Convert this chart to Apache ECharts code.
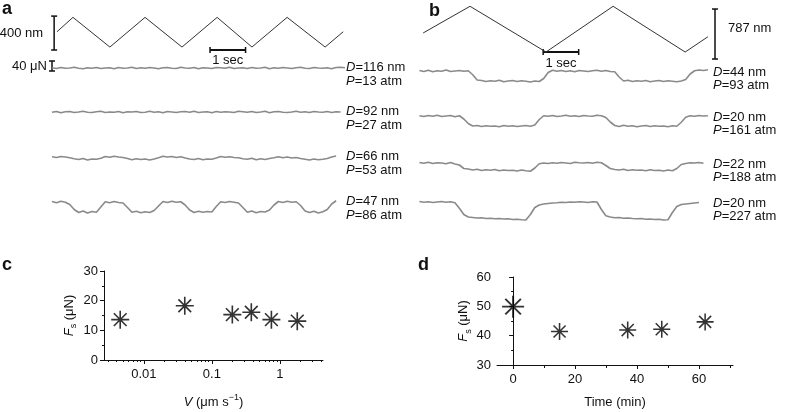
<!DOCTYPE html>
<html>
<head>
<meta charset="utf-8">
<script src="https://cdn.jsdelivr.net/npm/echarts@6/dist/echarts.min.js"></script>
<style>
  html, body { margin: 0; background: #fff; }
  #chart { width: 788px; height: 412px; }
</style>
</head>
<body>
<div id="chart"></div>
<script>
// sample spacing of the friction traces (s)
const DT = 0.125

// piezo drive (triangle), vertices as [time s, displacement nm]
const driveA = [[0.14, 180], [0.59, 350], [1.63, 0], [2.62, 350], [3.66, 0], [4.65, 350], [5.63, 0], [6.62, 350], [7.69, 0], [8.20, 180]]
const driveB = [[0.23, 300], [1.55, 720], [3.69, 0], [5.58, 720], [7.61, 0], [8.25, 240]]

// friction traces, µN, one value every DT
const traceA1 = [1,-2,2,-1,0,3,-1,-3,1,-1, 2,-2,0,1,-3,2,-1,0,3,-2, 1,-1,2,0,-3,1,2,-1,-2,3, 0,-1,2,-3,1,0,-2,2,1,-1, 3,-2,0,1,-2,2,-1,0,3,-3, 1,-1,2,0,-2,1,3,-1,-2,2, 0,-1,1,-3,2,3,1]
const traceA2 = [-1,2,-3,1,2,-2,0,3,-1,-2, 1,3,-2,0,-1,2,-3,1,0,2, -2,-1,3,-1,1,-3,2,0,-2,1, 2,-1,3,-2,0,1,-3,2,-1,1, 0,-2,3,1,-1,2,-2,0,3,-3, 1,2,-1,-2,0,3,-1,1,-2,2, 0,-1,2,-2,1,0]
const traceA3 = [1,-2,2,0,-3,-7,-10,-6,-12,-8,-9,-5,2,-1,3,0,-2,-6,-11,-7,-10,-8,-12,-8,-3,3,0,2,-2,1,-4,-8,-10,-6,-11,-8,-9,-4,2,-1,1,-2,-3,-7,-9,-5,-11,-7,-10,-6,-3,1,-3,0,-4,-2,-6,-9,-12,-8,-11,-9,-6,0,4]
const traceA4 = [2,-3,3,-1,-10,-30,-42,-36,-44,-38,-41,-20,1,-3,2,-2,-4,-22,-41,-37,-43,-39,-42,-34,-16,2,-2,3,-1,1,-12,-32,-42,-37,-41,-38,-40,-18,1,-2,2,-1,-4,-22,-41,-36,-43,-38,-40,-32,-12,2,-2,3,-1,1,-14,-36,-42,-37,-44,-39,-30,-8,5]
const traceB1 = [2,-2,3,-3,1,-1,4,-2,0,2,-1,1,-15,-36,-38,-42,-39,-41,-37,-43,-40,-38,-42,-39,-41,-44,-40,-42,-30,-6,3,-1,2,-2,1,-3,2,0,-2,1,3,-1,2,-2,-3,-24,-40,-37,-42,-39,-41,-38,-43,-40,-38,-42,-39,-41,-43,-40,-34,-12,1,4,2,5]
const traceB2 = [1,-2,2,-1,3,-2,0,2,-3,1,-12,-30,-40,-38,-42,-39,-41,-40,-43,-38,-41,-39,-42,-40,-38,-41,-36,-14,1,-1,2,-2,0,3,-1,1,-2,2,0,-1,3,1,-6,-24,-38,-42,-37,-41,-39,-43,-40,-38,-42,-39,-41,-40,-43,-39,-41,-25,-5,1,-1,2,0,1]
const traceB3 = [2,-1,3,-2,1,0,-3,2,-4,-8,-22,-24,-28,-25,-30,-27,-29,-26,-31,-28,-30,-29,-32,-28,-31,-33,-20,-3,0,-2,1,-1,2,0,-2,3,1,0,2,-1,3,1,-10,-22,-26,-28,-25,-30,-27,-29,-28,-31,-27,-30,-29,-32,-28,-31,-22,-6,-2,1,0,2,-1]
const traceB4 = [2,-1,1,-2,0,2,-1,1,-3,-25,-50,-60,-62,-64,-63,-66,-65,-67,-66,-68,-67,-70,-69,-71,-72,-50,-22,-12,-8,-6,-4,-3,-1,-2,0,-1,1,0,-2,1,0,-30,-55,-60,-63,-62,-65,-64,-66,-67,-66,-69,-68,-70,-69,-72,-71,-42,-18,-10,-8,-6,-4,-2]

const depthA = [116, 92, 66, 47]      // D, nm
const pressA = [13, 27, 53, 86]       // P, atm
const depthB = [44, 20, 22, 20]
const pressB = [93, 161, 188, 227]

// panel c: sliding speed (µm/s) vs static friction (µN)
const speedC = [0.0045, 0.04, 0.2, 0.38, 0.75, 1.8]
const forceC = [13.6, 18.3, 15.3, 16.1, 13.6, 13.1]
const ticksC = [0.01, 0.1, 1]

// panel d: time (min) vs static friction (µN)
const timeD = [0, 15, 37, 48, 62]
const forceD = [49.9, 41.4, 41.9, 42.2, 44.7]
const ticksD = [0, 20, 40, 60]
const minorD = [10, 30, 50, 70]

const FONT = '"Liberation Sans", Arial, Helvetica, sans-serif'
const INK = '#111'
const TRACE = '#8a8a8a'

// 8-spoke asterisk drawn as filled thin bars
const STAR = 'path://M0 45.5H100V54.5H0Z M45.5 0H54.5V100H45.5Z M11.4 17.8L17.8 11.4L88.6 82.2L82.2 88.6Z M82.2 11.4L88.6 17.8L17.8 88.6L11.4 82.2Z M42 42H58V58H42Z'

const grid = [], xAxis = [], yAxis = [], series = []

const addHidden = (box, xr, yr) => {
  grid.push(box)
  const i = grid.length - 1
  xAxis.push({ type: 'value', gridIndex: i, min: xr[0], max: xr[1], show: false })
  yAxis.push({ type: 'value', gridIndex: i, min: yr[0], max: yr[1], show: false })
  return i
}
const line = (i, data, color, width) => ({
  type: 'line', xAxisIndex: i, yAxisIndex: i, data, symbol: 'none', silent: true, clip: false,
  lineStyle: { color, width }
})
const toXY = (vals, t0) => vals.map((v, k) => [t0 + k * DT, v])

// ---- panel a ----
const gDriveA = addHidden({ left: 52, width: 293, top: 10, height: 45 }, [0, 8.25], [-94, 437])
series.push(line(gDriveA, driveA, '#333', 1))
const tracesA = [traceA1, traceA2, traceA3, traceA4]
const topsA = [58, 102, 147, 192]
const gA = tracesA.map((tr, k) => {
  const g = addHidden({ left: 52, width: 293, top: topsA[k], height: 32 }, [0, 8.25], [-88, 40])
  series.push(line(g, toXY(tr, 0), TRACE, 1.6))
  return g
})

// ---- panel b ----
const gDriveB = addHidden({ left: 415, width: 300, top: 4, height: 58 }, [0, 8.45], [-157, 756])
series.push(line(gDriveB, driveB, '#333', 1))
const tracesB = [traceB1, traceB2, traceB3, traceB4]
const topsB = [61, 106, 153, 192]
const gB = tracesB.map((tr, k) => {
  const g = addHidden({ left: 415, width: 300, top: topsB[k], height: 32 }, [0, 8.45], [-88, 40])
  series.push(line(g, toXY(tr, DT), TRACE, 1.6))
  return g
})

// ---- panels c, d ----
const labelStyle = { color: INK, fontSize: 13, fontFamily: FONT }
const richName = {
  i: { fontStyle: 'italic', fontSize: 13, fontFamily: FONT, color: INK, lineHeight: 18 },
  s: { fontSize: 9, fontFamily: FONT, color: INK, lineHeight: 10, verticalAlign: 'bottom' },
  sup: { fontSize: 9, fontFamily: FONT, color: INK, lineHeight: 10, verticalAlign: 'top' }
}
const nameStyle = { color: INK, fontSize: 13, fontFamily: FONT, lineHeight: 18, rich: richName }
const axisBase = {
  axisLine: { lineStyle: { color: INK, width: 1 } },
  axisTick: { lineStyle: { color: INK }, length: 4 },
  splitLine: { show: false },
  nameLocation: 'middle',
  nameTextStyle: nameStyle
}

grid.push({ left: 104, top: 271, width: 219, height: 93 })
const gC = grid.length - 1
xAxis.push(Object.assign({}, axisBase, {
  type: 'log', gridIndex: gC, position: 'bottom', min: 0.0026, max: 4.3,
  axisTick: { lineStyle: { color: INK }, length: 4, customValues: ticksC },
  axisLabel: Object.assign({ margin: 8, customValues: ticksC, formatter: v => String(v) }, labelStyle),
  name: '{i|V} (μm s{sup|−1})', nameGap: 33
}))
yAxis.push(Object.assign({}, axisBase, {
  type: 'value', gridIndex: gC, min: 0, max: 30, interval: 10,
  minorTick: { show: true, splitNumber: 2, length: 2, lineStyle: { color: INK } },
  axisLabel: Object.assign({ margin: 6 }, labelStyle),
  name: '{i|F}{s|s} (μN)', nameRotate: 90, nameGap: 26
}))
series.push({
  type: 'scatter', xAxisIndex: gC, yAxisIndex: gC, symbol: STAR, symbolSize: 18, silent: true,
  itemStyle: { color: '#000' }, data: speedC.map((v, k) => [v, forceC[k]])
})

grid.push({ left: 497, top: 277, width: 236, height: 88 })
const gD = grid.length - 1
xAxis.push(Object.assign({}, axisBase, {
  type: 'value', gridIndex: gD, position: 'bottom', min: -5.2, max: 71,
  axisTick: { lineStyle: { color: INK }, length: 4, customValues: ticksD },
  axisLabel: Object.assign({ margin: 8, customValues: ticksD }, labelStyle),
  name: 'Time (min)', nameGap: 28
}))
yAxis.push(Object.assign({}, axisBase, {
  type: 'value', gridIndex: gD, min: 30, max: 60, interval: 10,
  minorTick: { show: true, splitNumber: 2, length: 2, lineStyle: { color: INK } },
  axisLabel: Object.assign({ margin: 6 }, labelStyle),
  name: '{i|F}{s|s} (μN)', nameRotate: 90, nameGap: 21
}))
series.push({
  type: 'scatter', xAxisIndex: gD, yAxisIndex: gD, symbol: STAR, symbolSize: 17, silent: true,
  itemStyle: { color: '#000' },
  data: timeD.map((v, k) => k === 0 ? { value: [v, forceD[k]], symbolSize: 22 } : [v, forceD[k]])
})

// minor ticks, drawn by overlay axes sharing the same scales
const minorC = []
;[0.001, 0.01, 0.1, 1].forEach(d => { for (let k = 2; k <= 9; k++) if (d * k > 0.0026 && d * k < 4.3) minorC.push(+(d * k).toPrecision(2)) })
xAxis.push({
  type: 'log', gridIndex: gC, position: 'bottom', min: 0.0026, max: 4.3, axisLine: { show: false }, axisLabel: { show: false },
  splitLine: { show: false }, axisTick: { length: 2, lineStyle: { color: INK }, customValues: minorC }
})
xAxis.push({
  type: 'value', gridIndex: gD, position: 'bottom', min: -5.2, max: 71, axisLine: { show: false }, axisLabel: { show: false },
  splitLine: { show: false }, axisTick: { length: 3, lineStyle: { color: INK }, customValues: minorD }
})

const chart = echarts.init(document.getElementById('chart'), null, { renderer: 'canvas' })
chart.setOption({ backgroundColor: '#fff', animation: false, grid, xAxis, yAxis, series })

// ---- annotations: scale bars placed through the axes, plus text ----
const px = (g, p) => chart.convertToPixel({ gridIndex: g }, p)
const graphic = []
const seg = (x1, y1, x2, y2, w) => graphic.push({ type: 'line', silent: true, shape: { x1, y1, x2, y2 }, style: { stroke: INK, lineWidth: w } })
const vBar = (g, t, v0, v1) => {
  const a = px(g, [t, v0]), b = px(g, [t, v1])
  seg(a[0], a[1], b[0], b[1], 1.5); seg(a[0] - 3, a[1], a[0] + 3, a[1], 1.5); seg(b[0] - 3, b[1], b[0] + 3, b[1], 1.5)
  return [a[0], (a[1] + b[1]) / 2]
}
const hBar = (g, t0, t1, v) => {
  const a = px(g, [t0, v]), b = px(g, [t1, v])
  seg(a[0], a[1], b[0], b[1], 2); seg(a[0], a[1] - 3, a[0], a[1] + 3, 1.5); seg(b[0], b[1] - 3, b[0], b[1] + 3, 1.5)
  return [(a[0] + b[0]) / 2, a[1]]
}
const txt = (text, x, y, extra) => graphic.push({
  type: 'text', x, y, silent: true,
  style: Object.assign({
    text, fontSize: 13, fontFamily: FONT, fill: INK, align: 'left', verticalAlign: 'middle',
    rich: { i: { fontStyle: 'italic', fontSize: 13, fontFamily: FONT, fill: INK } }
  }, extra || {})
})

const nmA = vBar(gDriveA, 0.06, -35, 365)
txt('400 nm', nmA[0] - 11, nmA[1], { align: 'right' })
const secA = hBar(gDriveA, 4.45, 5.45, -35)
txt('1 sec', secA[0], secA[1] + 10, { align: 'center' })
const unA = vBar(gA[0], 0, -12, 28)
txt('40 μN', unA[0] - 5, unA[1], { align: 'right' })

const nmB = vBar(gDriveB, 8.45, -110, 677)
txt('787 nm', nmB[0] + 13, nmB[1] - 6)
const secB = hBar(gDriveB, 3.61, 4.61, 0)
txt('1 sec', secB[0], secB[1] + 11, { align: 'center' })

gA.forEach((g, k) => {
  const y = px(g, [0, 0])[1]
  txt(`{i|D}=${depthA[k]} nm`, 346, y - 1)
  txt(`{i|P}=${pressA[k]} atm`, 346, y + 13)
})
gB.forEach((g, k) => {
  const y = px(g, [0, 0])[1]
  txt(`{i|D}=${depthB[k]} nm`, 713, y + 1)
  txt(`{i|P}=${pressB[k]} atm`, 713, y + 14)
})

const panel = { fontSize: 18, fontWeight: 'bold' }
txt('a', 2, 9, panel)
txt('b', 429, 11, panel)
txt('c', 2, 265, panel)
txt('d', 418, 265, panel)

chart.setOption({ graphic })
</script>
</body>
</html>
